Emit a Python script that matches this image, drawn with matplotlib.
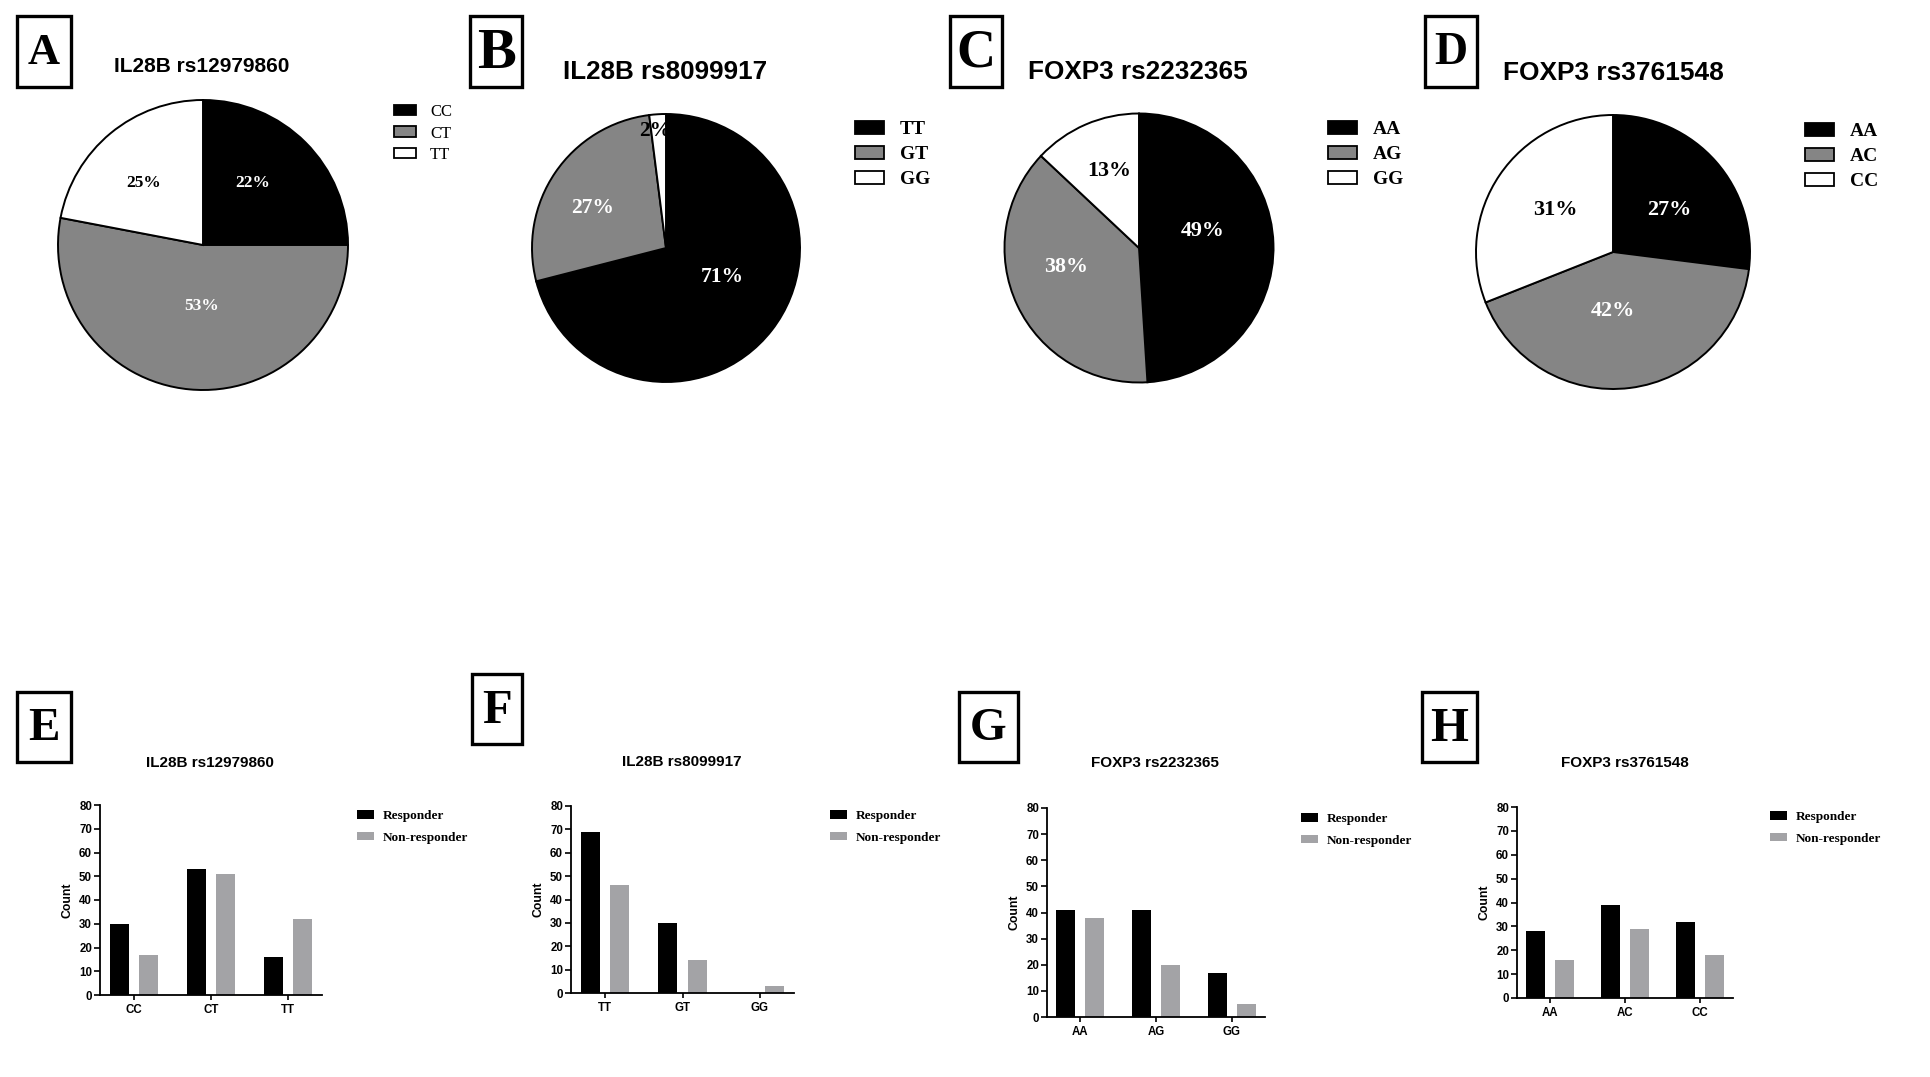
import numpy as np
import matplotlib.pyplot as plt
from matplotlib.patches import Patch, Rectangle
from matplotlib.font_manager import FontProperties

W, H = 1930, 1077
plt.rcParams['font.family'] = 'Liberation Sans'

# ---- pie data (top row) ----
pie_titles = ["IL28B rs12979860", "IL28B rs8099917", "FOXP3 rs2232365", "FOXP3 rs3761548"]
pie_genotypes = [["CC", "CT", "TT"], ["TT", "GT", "GG"], ["AA", "AG", "GG"], ["AA", "AC", "CC"]]
pie_A = [25, 53, 22]
pie_B = [71, 27, 2]
pie_C = [49, 38, 13]
pie_D = [27, 42, 31]
# printed percentages (panel A prints them swapped against the slices)
pct_A = ["22%", "53%", "25%"]
pct_B = ["71%", "27%", "2%"]
pct_C = ["49%", "38%", "13%"]
pct_D = ["27%", "42%", "31%"]

# ---- bar data (bottom row) ----
bar_titles = pie_titles
cats_E = ["CC", "CT", "TT"]
resp_E = [30, 53, 16]
nonresp_E = [17, 51, 32]
cats_F = ["TT", "GT", "GG"]
resp_F = [69, 30, 0]
nonresp_F = [46, 14, 3]
cats_G = ["AA", "AG", "GG"]
resp_G = [41, 41, 17]
nonresp_G = [38, 20, 5]
cats_H = ["AA", "AC", "CC"]
resp_H = [28, 39, 32]
nonresp_H = [16, 29, 18]

PIE_COLORS = ["black", "#858585", "white"]
BAR_BLACK = "black"
BAR_GRAY = "#a3a3a6"

fig = plt.figure(figsize=(W / 100, H / 100), dpi=100)


def px_rect(l, t, r, b):
    return [l / W, 1 - b / H, (r - l) / W, (b - t) / H]


def fxy(x, y):
    return (x / W, 1 - y / H)


def letter_box(letter, l, t, r, b, size):
    fig.add_artist(Rectangle(fxy(l, b), (r - l) / W, (b - t) / H, transform=fig.transFigure,
                             fill=False, lw=2.4, edgecolor="black"))
    fig.text(*fxy((l + r) / 2, (t + b) / 2 + 2), letter, ha="center", va="center",
             family="Liberation Serif", weight="bold", fontsize=size)


def draw_pie(sizes, pcts, labels, title, center, radius, offsets, title_pos, title_size,
             leg_pos, leg_size, leg_bold, hl, hh, htp, ls, pct_size):
    cx, cy = center
    k = 1.1
    ax = fig.add_axes(px_rect(cx - k * radius, cy - k * radius, cx + k * radius, cy + k * radius))
    wedges, _ = ax.pie(sizes, colors=PIE_COLORS, startangle=90, counterclock=False,
                       wedgeprops=dict(edgecolor="black", linewidth=1.4))
    ax.set_xlim(-k, k)
    ax.set_ylim(-k, k)
    ax.set_aspect("equal")
    ax.axis("off")
    for txt, (dx, dy), col in zip(pcts, offsets, PIE_COLORS):
        ax.text(dx, dy, txt, ha="center", va="center", family="Liberation Serif",
                weight="bold", fontsize=pct_size, color="white" if col != "white" else "black")
    fig.text(*fxy(*title_pos), title, ha="center", va="center", weight="bold", fontsize=title_size)
    handles = [Patch(facecolor=c, edgecolor="black", linewidth=1.3) for c in PIE_COLORS]
    fig.legend(handles, labels, loc="upper left", bbox_to_anchor=fxy(*leg_pos),
               bbox_transform=fig.transFigure, frameon=False, borderpad=0, borderaxespad=0,
               handlelength=hl, handleheight=hh, handletextpad=htp, labelspacing=ls,
               prop=FontProperties(family="Liberation Serif",
                                   weight="bold" if leg_bold else "normal", size=leg_size))


def draw_bars(cats, resp, nonresp, title, rect, title_pos, leg_pos):
    ax = fig.add_axes(px_rect(*rect))
    x = np.arange(len(cats))
    w = 0.25
    ax.bar(x - 0.19, resp, w, color=BAR_BLACK, label="Responder")
    ax.bar(x + 0.19, nonresp, w, color=BAR_GRAY, label="Non-responder")
    ax.set_xlim(-0.44, len(cats) - 1 + 0.44)
    ax.set_ylim(0, 80)
    ax.set_yticks(range(0, 81, 10))
    ax.set_xticks(x)
    ax.set_xticklabels(cats)
    for s in ["top", "right"]:
        ax.spines[s].set_visible(False)
    for s in ["left", "bottom"]:
        ax.spines[s].set_linewidth(1.3)
    ax.tick_params(axis="y", width=1.2, length=4.2, labelsize=8.3, pad=1.5)
    ax.tick_params(axis="x", width=1.2, length=3.8, labelsize=8.3, pad=2.5)
    for lab in ax.get_xticklabels() + ax.get_yticklabels():
        lab.set_fontweight("bold")
    ax.set_ylabel("Count", weight="bold", fontsize=8.8, labelpad=4)
    fig.text(*fxy(*title_pos), title, ha="center", va="center", weight="bold", fontsize=11)
    h, l = ax.get_legend_handles_labels()
    fig.legend(h, l, loc="upper left", bbox_to_anchor=fxy(*leg_pos),
               bbox_transform=fig.transFigure, frameon=False, borderpad=0, borderaxespad=0,
               handlelength=1.29, handleheight=0.6, handletextpad=0.68, labelspacing=0.75,
               prop=FontProperties(family="Liberation Serif", weight="bold", size=9.5))


# ---- panel letters ----
letter_box("A", 17, 16, 71, 87, 32)
letter_box("B", 470, 16, 522, 87, 42)
letter_box("C", 950, 16, 1002, 87, 39)
letter_box("D", 1425, 16, 1477, 87, 33)
letter_box("E", 17, 692, 71, 762, 34)
letter_box("F", 472, 674, 522, 744, 35)
letter_box("G", 959, 692, 1018, 762, 34)
letter_box("H", 1422, 692, 1477, 762, 35)

# ---- pies ----
draw_pie(pie_A, pct_A, pie_genotypes[0], pie_titles[0], (203, 245), 145,
         [(0.34, 0.43), (-0.01, -0.42), (-0.41, 0.43)], (202, 67), 15,
         (394, 104), 12, False, 1.32, 0.6, 0.84, 0.33, 12.5)
draw_pie(pie_B, pct_B, pie_genotypes[1], pie_titles[1], (666, 248), 134,
         [(0.42, -0.22), (-0.55, 0.30), (-0.08, 0.87)], (665, 72), 18.7,
         (855, 121), 14, True, 1.5, 0.67, 0.82, 0.39, 15.5)
draw_pie(pie_C, pct_C, pie_genotypes[2], pie_titles[2], (1139, 248), 134.5,
         [(0.47, 0.13), (-0.54, -0.14), (-0.22, 0.57)], (1138, 72), 18.8,
         (1328, 121), 14, True, 1.5, 0.67, 0.82, 0.39, 15.8)
draw_pie(pie_D, pct_D, pie_genotypes[3], pie_titles[3], (1613, 252), 137,
         [(0.41, 0.31), (0.0, -0.43), (-0.42, 0.31)], (1613, 73), 18.9,
         (1805, 123), 14, True, 1.5, 0.67, 0.82, 0.39, 16)

# ---- bars ----
draw_bars(cats_E, resp_E, nonresp_E, bar_titles[0], (100, 805, 322, 995), (210, 763), (357, 810))
draw_bars(cats_F, resp_F, nonresp_F, bar_titles[1], (571, 806, 794, 993), (682, 762), (830, 810))
draw_bars(cats_G, resp_G, nonresp_G, bar_titles[2], (1047, 808, 1265, 1017), (1155, 763), (1301, 813))
draw_bars(cats_H, resp_H, nonresp_H, bar_titles[3], (1517, 807, 1733, 998), (1625, 763), (1770, 811))

fig.savefig("out.png", dpi=100)
